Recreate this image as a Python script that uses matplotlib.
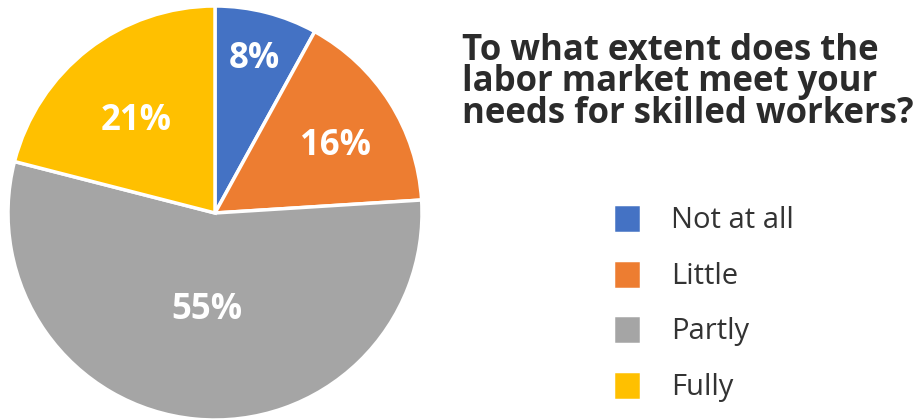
import numpy as np
import matplotlib.pyplot as plt

# Survey answers and their shares (%)
categories = ['Not at all', 'Little', 'Partly', 'Fully']
shares = [8, 16, 55, 21]
colors = ['#4472C4', '#ED7D31', '#A5A5A5', '#FFC000']
title = 'To what extent does the\nlabor market meet your\nneeds for skilled workers?'

# placement of each percentage label: radius fraction and angle nudge (deg)
label_radii = [0.77, 0.665, 0.47, 0.585]
label_nudge = [0, -3.2, 0.5, 3]

plt.rcParams['font.family'] = ['Open Sans', 'DejaVu Sans']

fig = plt.figure(figsize=(9.16, 4.19), dpi=100)
ax = fig.add_axes([8 / 916, -1 / 419, 414 / 916, 414 / 419])

wedges, _ = ax.pie(
    shares, colors=colors, startangle=90, counterclock=False, radius=1,
    wedgeprops=dict(edgecolor='white', linewidth=2.5))
ax.set_xlim(-1, 1)
ax.set_ylim(-1, 1)
ax.set_aspect('equal')

for w, share, r, d in zip(wedges, shares, label_radii, label_nudge):
    ang = np.deg2rad((w.theta1 + w.theta2) / 2 + d)
    ax.text(r * np.cos(ang), r * np.sin(ang), f'{share}%', color='white',
            fontsize=25, fontweight='bold', ha='center', va='center')

fig.text(462 / 916, 1 - 33 / 419, title, fontsize=25, fontweight='bold',
         color='#2b2b2b', va='top', ha='left', linespacing=0.83)

fig.legend(wedges, categories, loc='upper left',
           bbox_to_anchor=(613 / 916, 1 - 204 / 419), frameon=False,
           borderpad=0, borderaxespad=0,
           fontsize=21, handlelength=0.95, handleheight=1.15,
           handletextpad=1.05, labelspacing=0.83, labelcolor='#333333')

fig.savefig('out.png', dpi=100)
